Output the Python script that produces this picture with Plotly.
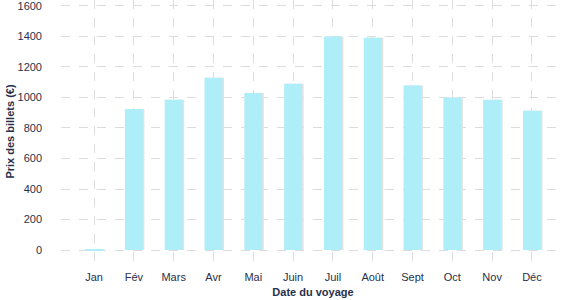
import plotly.graph_objects as go

months = ["Jan", "Fév", "Mars", "Avr", "Mai", "Juin", "Juil", "Août", "Sept", "Oct", "Nov", "Déc"]
prices = [5, 925, 985, 1130, 1030, 1090, 1400, 1392, 1078, 1000, 985, 913]
y_ticks = [0, 200, 400, 600, 800, 1000, 1200, 1400, 1600]

font_color = "#27304a"

fig = go.Figure()
# subtle shadow
fig.add_trace(go.Bar(x=months, y=prices, width=0.45, offset=-0.225 + 0.04,
                     marker=dict(color="#e2e2e2", line=dict(width=0)),
                     hoverinfo="skip", showlegend=False))
fig.add_trace(go.Bar(x=months, y=prices, width=0.45, offset=-0.225,
                     marker=dict(color="#aeeef8", line=dict(width=0)),
                     showlegend=False))

fig.update_layout(
    width=577, height=300,
    margin=dict(l=61, r=12, t=0, b=37),
    barmode="overlay",
    plot_bgcolor="white", paper_bgcolor="white",
    font=dict(family="Liberation Sans, Arial, sans-serif", size=11, color=font_color),
    xaxis=dict(
        type="category", range=[-0.83, 11.83],
        showgrid=True, gridcolor="#dcdcdc", griddash="dash", gridwidth=1,
        showline=False, zeroline=False, ticks="",
        ticklabelstandoff=6,
        title=dict(text="<b>Date du voyage</b>", font=dict(size=11, color=font_color), standoff=6),
    ),
    yaxis=dict(
        range=[-85, 1639],
        tickvals=y_ticks,
        showgrid=True, gridcolor="#dcdcdc", griddash="dash", gridwidth=1,
        showline=False, zeroline=False, ticks="",
        ticklabelstandoff=18,
        ticklabeloverflow="allow",
        title=dict(text="<b>Prix des billets (€)</b>", font=dict(size=11, color=font_color), standoff=0),
    ),
)

fig.write_html("out.html")
